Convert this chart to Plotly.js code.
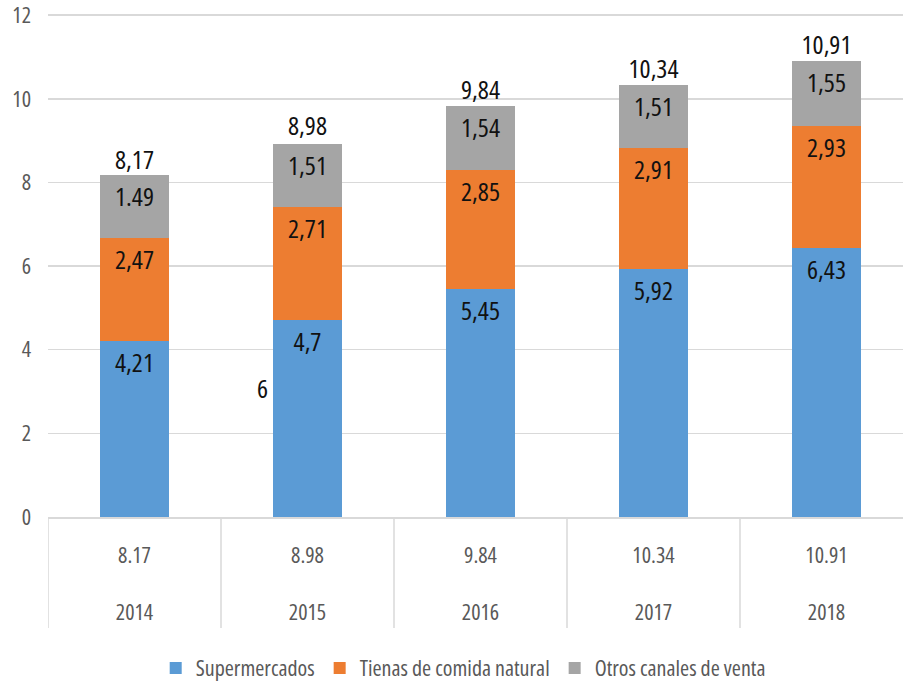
<!DOCTYPE html>
<html>
<head>
<meta charset="utf-8">
<script src="https://cdn.plot.ly/plotly-3.0.1.min.js"></script>
<style>
html,body{margin:0;padding:0;overflow:hidden;background:#fff;width:903px;height:691px;}
#chart{width:920px;height:710px;}
text, tspan { font-stretch: condensed !important; }
</style>
</head>
<body>
<div id="chart"></div>
<script>
const years = ['2014', '2015', '2016', '2017', '2018'];
const supermercados = [4.21, 4.7, 5.45, 5.92, 6.43];
const tiendas = [2.47, 2.71, 2.85, 2.91, 2.93];
const otros = [1.49, 1.51, 1.54, 1.51, 1.55];
const totals = [8.17, 8.98, 9.84, 10.34, 10.91];

const superLabels = ['4,21', '4,7', '5,45', '5,92', '6,43'];
const tiendasLabels = ['2,47', '2,71', '2,85', '2,91', '2,93'];
const otrosLabels = ['1.49', '1,51', '1,54', '1,51', '1,55'];
const totalLabels = ['8,17', '8,98', '9,84', '10,34', '10,91'];
const axisTotalLabels = ['8.17', '8.98', '9.84', '10.34', '10.91'];
const yTickVals = [0, 2, 4, 6, 8, 10, 12];
const seriesNames = ['Supermercados', 'Tienas de comida natural', 'Otros canales de venta'];
const colors = ['#5b9bd5', '#ed7d31', '#a5a5a5'];

const FONT = '"Open Sans", "Liberation Sans", sans-serif';
const labelFont = {family: FONT, size: 26, color: '#111'};

function barTrace(name, vals, labels, color) {
  return {
    type: 'bar', name: name, x: years, y: vals,
    text: labels, textposition: 'inside', insidetextanchor: 'end',
    textangle: 0, constraintext: 'none',
    textfont: labelFont, insidetextfont: labelFont,
    marker: {color: color, line: {width: 0}},
    hoverinfo: 'skip', cliponaxis: false
  };
}

const data = [
  barTrace(seriesNames[0], supermercados, superLabels, colors[0]),
  barTrace(seriesNames[1], tiendas, tiendasLabels, colors[1]),
  barTrace(seriesNames[2], otros, otrosLabels, colors[2]),
  {
    type: 'scatter', mode: 'text', x: years, y: totals, text: totalLabels,
    textposition: 'top center', textfont: labelFont, showlegend: false,
    hoverinfo: 'skip', cliponaxis: false
  }
];

const shapes = [];
for (let i = 0; i <= years.length; i++) {
  shapes.push({type: 'line', xref: 'x', yref: 'paper', x0: i - 0.5, x1: i - 0.5,
    y0: 0, y1: -0.2195, line: {color: '#d9d9d9', width: 1.5}});
}

const layout = {
  width: 920, height: 710,
  margin: {l: 48, r: 7, t: 11.3, b: 193},
  barmode: 'stack', bargap: 0.6,
  paper_bgcolor: '#fff', plot_bgcolor: '#fff',
  font: {family: FONT, color: '#595959', size: 22},
  xaxis: {
    type: 'category', range: [-0.5, 4.5],
    tickvals: years,
    ticktext: years.map((y, i) => axisTotalLabels[i] + '<br><br>' + y),
    tickfont: {family: FONT, size: 22, color: '#595959'},
    ticks: '', ticklabelstandoff: 18,
    showline: true, linecolor: '#d9d9d9', linewidth: 1.5,
    showgrid: false, zeroline: false, fixedrange: true, automargin: false
  },
  yaxis: {
    range: [0, 12.1], tickmode: 'array', tickvals: yTickVals,
    ticktext: yTickVals.map(String),
    tickfont: {family: FONT, size: 22, color: '#595959'},
    showgrid: true, gridcolor: '#d9d9d9', gridwidth: 1.5,
    zeroline: false, showline: false, ticks: '', ticklabelstandoff: 16,
    ticklabeloverflow: 'allow',
    fixedrange: true, automargin: false
  },
  shapes: shapes,
  annotations: [{
    xref: 'x', yref: 'y', x: 0.74, y: 3.08, text: '6', showarrow: false,
    font: {family: FONT, size: 26, color: '#111'}
  }],
  legend: {
    orientation: 'h', x: 0.48, xanchor: 'center', y: -0.2986, yanchor: 'middle',
    font: {family: FONT, size: 22, color: '#595959'},
    traceorder: 'normal', itemclick: false, itemdoubleclick: false
  },
  showlegend: true
};

Plotly.newPlot('chart', data, layout, {displayModeBar: false, staticPlot: true});
</script>
</body>
</html>
